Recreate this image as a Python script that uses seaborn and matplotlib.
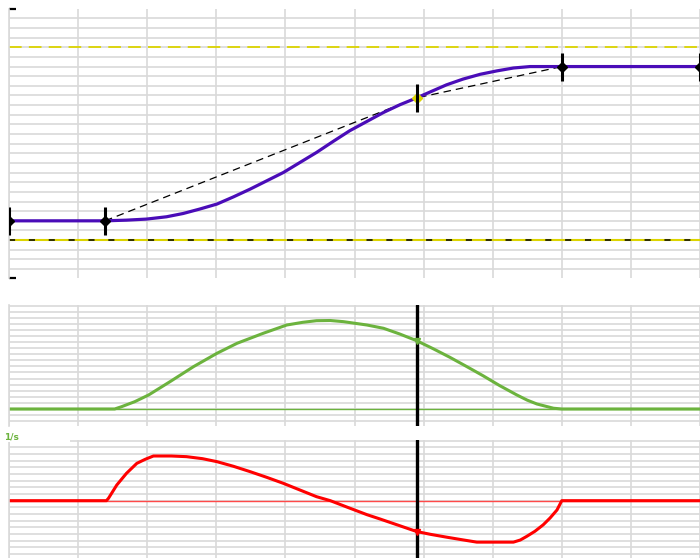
import matplotlib
matplotlib.use("Agg")
import matplotlib.pyplot as plt
import seaborn as sns
from matplotlib.patches import Rectangle

# ---- motion profile data (time in grid units) ----
# position
pos_t = [0.0, 1.39, 1.70, 1.99, 2.28, 2.52, 2.76, 3.01, 3.25, 3.49, 3.73, 3.97, 4.21, 4.45,
         4.69, 4.93, 5.18, 5.42, 5.66, 5.90, 6.09, 6.33, 6.57, 6.82, 7.06, 7.30, 7.54, 8.0, 10.0]
pos_v = [5.0, 5.0, 5.07, 5.18, 5.42, 5.76, 6.22, 6.74, 7.49, 8.29, 9.15, 10.01, 11.05, 12.09,
         13.23, 14.34, 15.31, 16.24, 17.05, 17.75, 18.35, 19.1, 19.7, 20.2, 20.55, 20.85, 21.0,
         21.0, 21.0]

# waypoints of the move
key_t = [0.0, 1.39, 5.9, 8.0, 10.0]
key_p = [5.0, 5.0, 17.75, 21.0, 21.0]

# position limits
upper_limit = 23.0
lower_limit = 3.0

# velocity
vel_t = [0.0, 1.53, 1.63, 1.82, 2.02, 2.33, 2.67, 3.01, 3.30, 3.68, 4.02, 4.25, 4.45, 4.65,
         4.84, 5.18, 5.42, 5.65, 5.90, 6.14, 6.38, 6.62, 6.86, 7.10, 7.35, 7.50, 7.64, 7.88,
         8.0, 10.0]
vel_v = [0.0, 0.0, 0.38, 1.2, 2.30, 4.49, 6.96, 9.16, 10.80, 12.45, 13.81, 14.25, 14.52, 14.55,
         14.36, 13.81, 13.27, 12.35, 11.23, 9.9, 8.50, 7.0, 5.47, 3.85, 2.30, 1.45, 0.82, 0.12,
         0.0, 0.0]

# acceleration
acc_t = [0.0, 1.41, 1.44, 1.56, 1.70, 1.85, 1.97, 2.09, 2.35, 2.57, 2.80, 3.01, 3.25, 3.49,
         3.73, 3.97, 4.21, 4.45, 4.65, 4.90, 5.18, 5.37, 5.61, 5.90, 6.10, 6.33, 6.55, 6.77,
         7.30, 7.40, 7.49, 7.61, 7.73, 7.83, 7.93, 8.0, 10.0]
acc_v = [0.0, 0.0, 0.36, 2.35, 4.1, 5.6, 6.2, 6.7, 6.7, 6.6, 6.3, 5.85, 5.15, 4.35,
         3.5, 2.6, 1.6, 0.6, 0.0, -1.0, -2.1, -2.75, -3.6, -4.63, -5.05, -5.47, -5.85, -6.22,
         -6.22, -5.9, -5.37, -4.6, -3.63, -2.6, -1.4, 0.0, 0.0]

cursor_t = 5.9
unit_label = "1/s"

# ---- styling ----
sns.set_style("white")
GRID = "#d9d9d9"
PURPLE = "#4a0cb8"
GREEN = "#6cb33e"
RED = "#ff0000"
YELLOW = "#dcd400"

W, H = 700, 558
fig = plt.figure(figsize=(W / 100, H / 100), dpi=100)


def px_axes(x0, y0, x1, y1):
    return fig.add_axes([x0 / W, 1 - y1 / H, (x1 - x0) / W, (y1 - y0) / H])


def style(ax, ylim, ylines, end_ticks=False):
    ax.set_xlim(0, 10)
    ax.set_ylim(*ylim)
    ax.set_xticks(range(0, 11), minor=True)
    ax.set_yticks(ylines, minor=True)
    ax.set_xticks([])
    if end_ticks:
        ax.set_yticks(list(ylim))
        ax.tick_params(axis="y", which="major", direction="in", length=5, width=1.6,
                       color="black", labelleft=False, left=True)
    else:
        ax.set_yticks([])
    ax.tick_params(which="minor", length=0)
    ax.grid(True, which="minor", color=GRID, lw=1.2)
    ax.set_axisbelow(True)
    for s in ("top", "right", "bottom"):
        ax.spines[s].set_visible(False)
    ax.spines["left"].set_color(GRID)
    ax.spines["left"].set_linewidth(1.2)


def clear_labels(ax):
    ax.set_xlabel("")
    ax.set_ylabel("")


# ---- position panel ----
ax1 = px_axes(9, 9, 700, 278)
style(ax1, (-0.93, 26.97), range(0, 27), end_ticks=True)
ax1.axhline(upper_limit, color=YELLOW, lw=1.3, ls=(0, (7, 4)))
ax1.axhline(lower_limit, color=YELLOW, lw=1.5)
ax1.axhline(lower_limit, color="black", lw=1.1, ls=(0, (4, 9)))
sns.lineplot(x=key_t[1:4], y=key_p[1:4], ax=ax1, color="black", lw=0.9,
             linestyle=(0, (6, 4)), estimator=None, sort=False)
sns.lineplot(x=pos_t, y=pos_v, ax=ax1, color=PURPLE, lw=2.3, estimator=None, sort=False)
ax1.plot(key_t, key_p, ls="none", marker="|", ms=20, mew=2.2, color="black", zorder=5)
diamond_col = ["black", "black", YELLOW, "black", "black"]
for t, p, c in zip(key_t, key_p, diamond_col):
    ax1.plot([t], [p], ls="none", marker="D", ms=5.5, mfc=c, mec=c, zorder=4)
clear_labels(ax1)

# ---- velocity panel ----
ax2 = px_axes(9, 305, 700, 426)
style(ax2, (-2.8, 17.1), range(-2, 18))
ax2.axhline(0, color=GREEN, lw=1.0)
sns.lineplot(x=vel_t, y=vel_v, ax=ax2, color=GREEN, lw=2.2, estimator=None, sort=False)
ax2.axvline(cursor_t, color="black", lw=2.4, zorder=6)
ax2.plot([cursor_t], [vel_v[vel_t.index(cursor_t)]], marker="v", ms=5, color=GREEN, zorder=7)
clear_labels(ax2)

# ---- acceleration panel ----
ax3 = px_axes(9, 440, 700, 558)
style(ax3, (-8.6, 9.1), range(-8, 10))
ax3.axhline(0, color="#ff4a4a", lw=1.0)
sns.lineplot(x=acc_t, y=acc_v, ax=ax3, color=RED, lw=2.2, estimator=None, sort=False)
ax3.axvline(cursor_t, color="black", lw=2.4, zorder=6)
ax3.plot([cursor_t], [acc_v[acc_t.index(cursor_t)]], marker="v", ms=5, color=RED, zorder=7)
clear_labels(ax3)

# unit label on a white strip above the acceleration panel
fig.patches.append(Rectangle((0, 1 - 442 / H), 70 / W, 14 / H, transform=fig.transFigure,
                             facecolor="white", edgecolor="none", zorder=10))
fig.text(4 / W, 1 - 441 / H, unit_label, color=GREEN, fontsize=6.5, fontweight="bold",
         ha="left", va="bottom", zorder=11)

fig.savefig("out.png", dpi=100)
